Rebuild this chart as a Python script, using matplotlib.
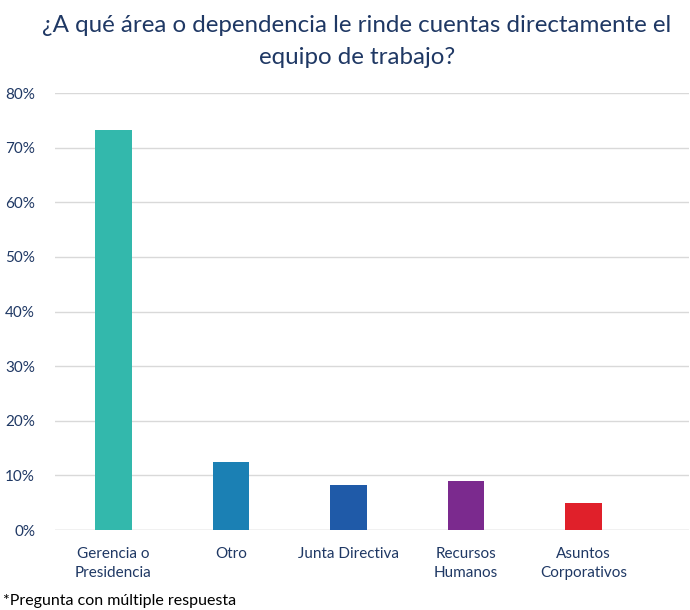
import matplotlib
matplotlib.use("Agg")
import matplotlib.pyplot as plt
from matplotlib.ticker import PercentFormatter

categories = ["Gerencia o\nPresidencia", "Otro", "Junta Directiva", "Recursos\nHumanos", "Asuntos\nCorporativos"]
values = [73.2, 12.4, 8.2, 8.9, 5.0]
colors = ["#33B8AC", "#1B80B4", "#1F5AA8", "#7B2A8E", "#E0202A"]
yticks = [0, 10, 20, 30, 40, 50, 60, 70, 80]

plt.rcParams['font.family'] = ['Lato', 'DejaVu Sans']
navy = "#1F3864"

fig = plt.figure(figsize=(6.9, 6.1), dpi=100)
ax = fig.add_axes([0.079, 0.131, 0.92, 0.7165])
x = list(range(len(categories)))
ax.bar(x, values, width=0.31, color=colors, zorder=3)
ax.set_ylim(0, 80)
ax.set_xlim(-0.5, 4.9)
ax.set_yticks(yticks)
ax.yaxis.set_major_formatter(PercentFormatter(decimals=0))
ax.set_xticks(x)
ax.set_xticklabels(categories, fontsize=11, color=navy, linespacing=1.5)
ax.tick_params(axis='y', labelsize=11, labelcolor=navy, length=0, pad=14)
ax.tick_params(axis='x', length=0, pad=12)
ax.grid(axis='y', color="#D9D9D9", linewidth=1, zorder=0)
for s in ax.spines.values():
    s.set_visible(False)
ax.axhline(0, color="#D9D9D9", linewidth=1, zorder=2)

fig.text(0.517, 0.932, "¿A qué área o dependencia le rinde cuentas directamente el\nequipo de trabajo?",
         ha='center', va='center', fontsize=17.4, color=navy, linespacing=1.6)
fig.text(0.005, 0.003, "*Pregunta con múltiple respuesta", fontsize=11.5, color="black", ha='left', va='bottom')

fig.savefig("out.png", dpi=100)
